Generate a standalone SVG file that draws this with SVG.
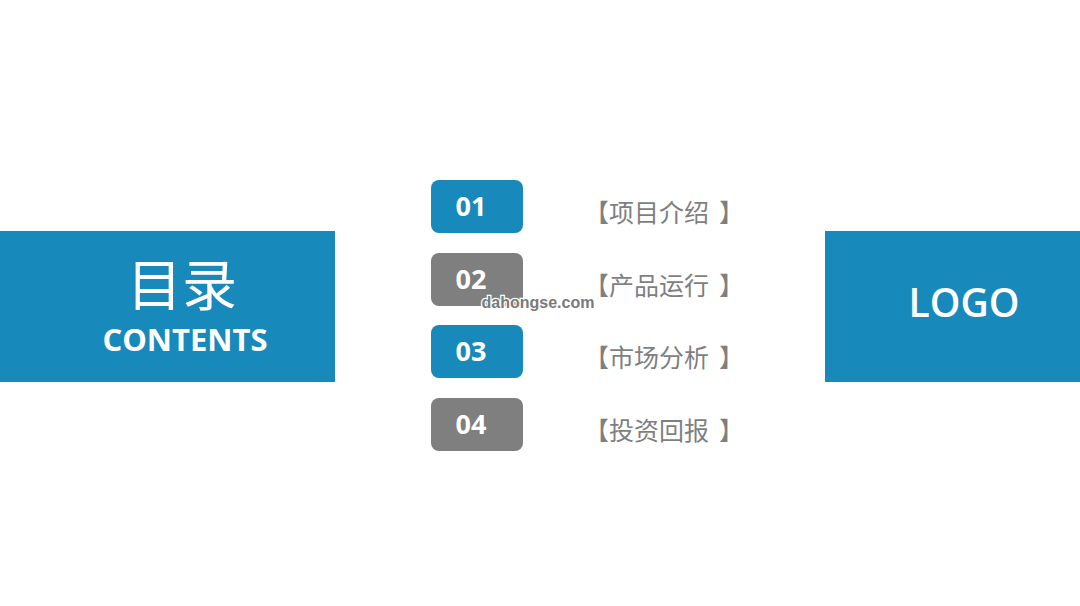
<svg xmlns="http://www.w3.org/2000/svg" width="1080" height="606" viewBox="0 0 1080 606">
<style>
.band{fill:#1889BB}
.blue{fill:#1889BB}
.grey{fill:#7F7F7F}
.numt{font-family:"Open Sans","Noto Sans",sans-serif;font-weight:bold;font-size:27px;fill:#fff;text-anchor:middle}
.lab{font-family:"Noto Sans CJK SC","Noto Sans",sans-serif;font-size:25px;fill:#7F7F7F}
</style>
<rect width="1080" height="606" fill="#fff"/>
<g id="left">
<rect class="band" x="0" y="231" width="335" height="151"/>
<text x="182" y="305" font-family="Noto Sans CJK SC,sans-serif" font-size="55" fill="#fff" text-anchor="middle">目录</text>
<text x="185" y="351" font-family="Open Sans,Noto Sans,sans-serif" font-weight="bold" font-size="31" fill="#fff" text-anchor="middle">CONTENTS</text>
</g>
<g id="right">
<rect class="band" x="825" y="231" width="255" height="151"/>
<text x="964" y="317" font-family="Open Sans,Noto Sans,sans-serif" font-weight="600" font-size="39" fill="#fff" text-anchor="middle">LOGO</text>
</g>
<g id="item1">
<rect class="blue" x="431" y="180" width="92" height="53" rx="8"/>
<text class="numt" x="471" y="216">01</text>
<text class="lab" x="584" y="222">【项目介绍<tspan x="719">】</tspan></text>
</g>
<g id="item2">
<rect class="grey" x="431" y="253" width="92" height="53" rx="8"/>
<text class="numt" x="471" y="289">02</text>
<text class="lab" x="584" y="295">【产品运行<tspan x="719">】</tspan></text>
</g>
<g id="item3">
<rect class="blue" x="431" y="325" width="92" height="53" rx="8"/>
<text class="numt" x="471" y="361">03</text>
<text class="lab" x="584" y="367">【市场分析<tspan x="719">】</tspan></text>
</g>
<g id="item4">
<rect class="grey" x="431" y="398" width="92" height="53" rx="8"/>
<text class="numt" x="471" y="434">04</text>
<text class="lab" x="584" y="440">【投资回报<tspan x="719">】</tspan></text>
</g>
<g id="connectors"/>
<text x="538" y="308" font-family="Liberation Sans,sans-serif" font-weight="bold" font-size="16" fill="#7a7a7a" stroke="#fff" stroke-width="2.5" paint-order="stroke" text-anchor="middle">dahongse.com</text>
</svg>
